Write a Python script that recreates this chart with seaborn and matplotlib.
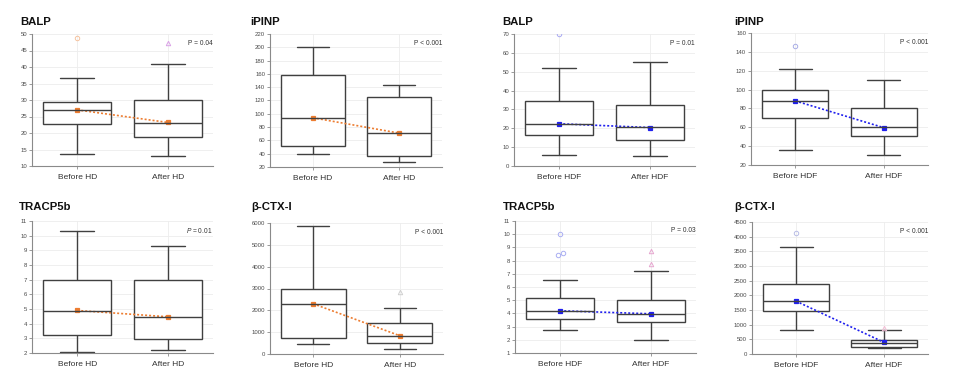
import numpy as np
import pandas as pd
import matplotlib.pyplot as plt
import seaborn as sns

# ---------------- dados ----------------
hd_groups = ["Before HD", "After HD"]
hdf_groups = ["Before HDF", "After HDF"]

# resumo: bigode inferior, Q1, mediana, Q3, bigode superior
balp_hd_before = [13.5, 22.7, 27.0, 29.5, 36.6]
balp_hd_after = [13.1, 18.9, 23.1, 30.0, 40.9]
balp_hd_means = [27.0, 23.2]
balp_hd_outliers = [[48.8], [47.3]]

ipinp_hd_before = [39, 51.7, 94, 158.5, 200]
ipinp_hd_after = [28, 37, 71, 126, 143]
ipinp_hd_means = [94, 71]
ipinp_hd_outliers = [[], []]

balp_hdf_before = [5.9, 16.5, 22.2, 34.3, 52.2]
balp_hdf_after = [5.2, 13.9, 20.6, 32.5, 55.1]
balp_hdf_means = [22.4, 20.4]
balp_hdf_outliers = [[69.8], []]

ipinp_hdf_before = [36, 70, 87.7, 99.8, 122]
ipinp_hdf_after = [30.3, 50.5, 60, 80.3, 110.4]
ipinp_hdf_means = [88, 59.6]
ipinp_hdf_outliers = [[146.6], []]

tracp_hd_before = [2.05, 3.22, 4.88, 7.01, 10.34]
tracp_hd_after = [2.23, 2.93, 4.47, 7.0, 9.32]
tracp_hd_means = [4.9, 4.47]
tracp_hd_outliers = [[], []]

ctx_hd_before = [472, 731, 2284, 2985, 5848]
ctx_hd_after = [228, 518, 838, 1401, 2117]
ctx_hd_means = [2300, 838]
ctx_hd_outliers = [[], [2848]]

tracp_hdf_before = [2.78, 3.56, 4.17, 5.2, 6.5]
tracp_hdf_after = [1.95, 3.34, 3.99, 5.05, 7.2]
tracp_hdf_means = [4.2, 3.97]
tracp_hdf_outliers = [[10.02, 8.46, 8.54], [8.71, 7.73]]

ctx_hdf_before = [827, 1451, 1791, 2380, 3661]
ctx_hdf_after = [215, 249, 374, 487, 827]
ctx_hdf_means = [1802, 397]
ctx_hdf_outliers = [[4126], [895]]

p_values = ["P = 0.04", "P < 0.001", "P = 0.01", "P < 0.001",
            "$\\mathit{P}$ = 0.01", "P < 0.001", "P = 0.03", "P < 0.001"]

# ---------------- estilo ----------------
sns.set_style("white")
plt.rcParams['font.family'] = ['Liberation Sans', 'DejaVu Sans']
plt.rcParams['mathtext.fontset'] = 'custom'
plt.rcParams['mathtext.rm'] = 'Liberation Sans'
plt.rcParams['mathtext.it'] = 'Liberation Sans:italic'

ORANGE = '#ED7D31'
BLUE = '#1f1fee'

W, H = 964, 384
fig = plt.figure(figsize=(W / 100, H / 100), dpi=100)

# (título, grupos, antes, depois, médias, outliers, yticks, cor, cores outliers,
#  eixo em px (esq, topo, dir, base), x do título em px)
paineis = [
    ("BALP", hd_groups, balp_hd_before, balp_hd_after, balp_hd_means, balp_hd_outliers,
     np.arange(10, 51, 5), ORANGE, ['#f6c39f', '#d9a0e6'], (32, 34, 213, 166), 20),
    ("iPINP", hd_groups, ipinp_hd_before, ipinp_hd_after, ipinp_hd_means, ipinp_hd_outliers,
     np.arange(20, 221, 20), ORANGE, ['#f6c39f', '#d9a0e6'], (270, 34, 442, 167), 250),
    ("BALP", hdf_groups, balp_hdf_before, balp_hdf_after, balp_hdf_means, balp_hdf_outliers,
     np.arange(0, 71, 10), BLUE, ['#a9a9f2', '#e6a6cf'], (514, 34, 695, 166), 502),
    ("iPINP", hdf_groups, ipinp_hdf_before, ipinp_hdf_after, ipinp_hdf_means, ipinp_hdf_outliers,
     np.arange(20, 161, 20), BLUE, ['#a9aee6', '#e6a6cf'], (751, 33, 928, 165), 734),
    ("TRACP5b", hd_groups, tracp_hd_before, tracp_hd_after, tracp_hd_means, tracp_hd_outliers,
     np.arange(2, 12, 1), ORANGE, ['#f6c39f', '#d9a0e6'], (32, 221, 213, 353), 19),
    ("β-CTX-I", hd_groups, ctx_hd_before, ctx_hd_after, ctx_hd_means, ctx_hd_outliers,
     np.arange(0, 6001, 1000), ORANGE, ['#f6c39f', '#cfcfcf'], (270, 223, 443, 354), 251),
    ("TRACP5b", hdf_groups, tracp_hdf_before, tracp_hdf_after, tracp_hdf_means, tracp_hdf_outliers,
     np.arange(1, 12, 1), BLUE, ['#a9aef2', '#e6a6cf'], (515, 221, 696, 353), 503),
    ("β-CTX-I", hdf_groups, ctx_hdf_before, ctx_hdf_after, ctx_hdf_means, ctx_hdf_outliers,
     np.arange(0, 4501, 500), BLUE, ['#b9bde6', '#f2bcd4'], (752, 222, 928, 354), 734),
]

# pequeno deslocamento para pontos sobrepostos (TRACP5b HDF, 8.46 e 8.54)
nudge = {6: [[0, -0.03, 0.03], [0, 0]]}

for k, (titulo, grupos, antes, depois, medias, outs, yt, cor, cores_out, rect, tx) in enumerate(paineis):
    l, t, r, b = rect
    ax = fig.add_axes([l / W, 1 - b / H, (r - l) / W, (b - t) / H])

    df = pd.DataFrame({
        'grupo': [grupos[0]] * len(antes) + [grupos[1]] * len(depois),
        'valor': antes + depois,
    })
    sns.boxplot(data=df, x='grupo', y='valor', order=grupos, whis=(0, 100),
                width=0.75, color='white', linecolor='#404040', linewidth=1.0,
                fliersize=0, ax=ax)

    sns.pointplot(x=grupos, y=medias, order=grupos, color=cor, markers='s',
                  linestyles=(0, (1.2, 1.2)), markersize=2.8, linewidth=1.2,
                  errorbar=None, ax=ax)

    for i, vals in enumerate(outs):
        if not vals:
            continue
        dx = nudge.get(k, [[0] * len(outs[0]), [0] * len(outs[1])])[i]
        ax.plot(np.array(dx) + i, vals, linestyle='none',
                marker='o' if i == 0 else '^', markersize=3.2,
                markerfacecolor='none', markeredgecolor=cores_out[i],
                markeredgewidth=0.7)

    ax.set_xlim(-0.5, 1.5)
    ax.set_ylim(yt[0], yt[-1])
    ax.set_yticks(yt)
    ax.set_xlabel('')
    ax.set_ylabel('')
    ax.grid(True, color='#ededed', linewidth=0.6)
    ax.set_axisbelow(True)
    for s in ['top', 'right']:
        ax.spines[s].set_visible(False)
    for s in ['left', 'bottom']:
        ax.spines[s].set_color('#8a8a8a')
        ax.spines[s].set_linewidth(0.8)
    ax.tick_params(axis='y', labelsize=4.3, colors='#8a8a8a', labelcolor='#4a4a4a',
                   length=2, width=0.6, pad=1.5, left=True)
    ax.tick_params(axis='x', labelsize=6, colors='#8a8a8a', labelcolor='#333333',
                   length=2, width=0.6, pad=4, bottom=True)

    ax.text(1.0, 0.93, p_values[k], transform=ax.transAxes, ha='right',
            va='center', fontsize=4.8, color='#333333')

    ty = 22 if t < 100 else 207
    fig.text(tx / W, 1 - ty / H, titulo, fontsize=8.2, fontweight='bold',
             ha='left', va='center', color='#111111')

plt.savefig('out.png', dpi=100)
